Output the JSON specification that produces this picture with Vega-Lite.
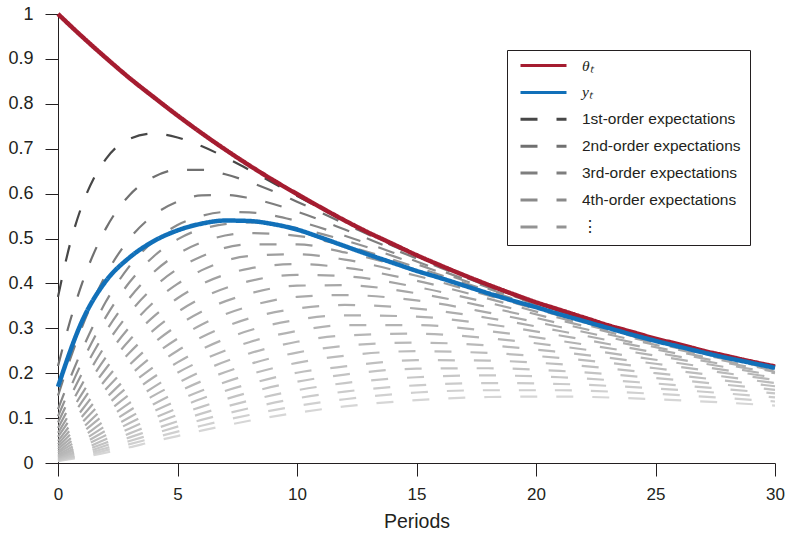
{
  "$schema": "https://vega.github.io/schema/vega-lite/v6.json",
  "description": "Impulse responses of theta, y and higher-order expectations",
  "width": 717,
  "height": 449,
  "autosize": {"type": "none"},
  "padding": {"left": 58, "top": 14, "right": 10, "bottom": 74},
  "config": {
    "view": {"stroke": null},
    "font": "Liberation Sans",
    "axis": {
      "grid": false,
      "domainColor": "#231f20",
      "tickColor": "#231f20",
      "labelColor": "#231f20",
      "titleColor": "#231f20",
      "tickSize": 13,
      "labelFontSize": 18,
      "labelFlush": false,
      "titleFontSize": 19.5,
      "titleFontWeight": "normal"
    },
    "axisX": {"labelFontSize": 17},
    "legend": {
      "symbolType": "stroke",
      "symbolSize": 2116,
      "symbolStrokeWidth": 3,
      "symbolOffset": 3,
      "clipHeight": 13,
      "rowPadding": 10.9,
      "labelFontSize": 15.5,
      "labelOffset": 14,
      "labelColor": "#231f20",
      "labelLimit": 300
    }
  },
  "datasets": {
    "curves": [
      {"s":"o24","t":0,"v":0.004},{"s":"o24","t":1,"v":0.013},{"s":"o24","t":2,"v":0.023},{"s":"o24","t":3,"v":0.035},{"s":"o24","t":4,"v":0.048},{"s":"o24","t":5,"v":0.060},{"s":"o24","t":6,"v":0.072},{"s":"o24","t":8,"v":0.094},{"s":"o24","t":10,"v":0.112},{"s":"o24","t":12,"v":0.126},{"s":"o24","t":15,"v":0.140},{"s":"o24","t":18,"v":0.147},{"s":"o24","t":21,"v":0.148},{"s":"o24","t":25,"v":0.142},{"s":"o24","t":30,"v":0.128},
      {"s":"o23","t":0,"v":0.005},{"s":"o23","t":1,"v":0.015},{"s":"o23","t":2,"v":0.028},{"s":"o23","t":3,"v":0.042},{"s":"o23","t":4,"v":0.056},{"s":"o23","t":5,"v":0.070},{"s":"o23","t":6,"v":0.083},{"s":"o23","t":8,"v":0.107},{"s":"o23","t":10,"v":0.127},{"s":"o23","t":12,"v":0.142},{"s":"o23","t":15,"v":0.157},{"s":"o23","t":18,"v":0.162},{"s":"o23","t":21,"v":0.162},{"s":"o23","t":25,"v":0.154},{"s":"o23","t":30,"v":0.137},
      {"s":"o22","t":0,"v":0.006},{"s":"o22","t":1,"v":0.018},{"s":"o22","t":2,"v":0.033},{"s":"o22","t":3,"v":0.049},{"s":"o22","t":4,"v":0.065},{"s":"o22","t":5,"v":0.081},{"s":"o22","t":6,"v":0.096},{"s":"o22","t":8,"v":0.122},{"s":"o22","t":10,"v":0.144},{"s":"o22","t":12,"v":0.159},{"s":"o22","t":15,"v":0.173},{"s":"o22","t":18,"v":0.178},{"s":"o22","t":21,"v":0.176},{"s":"o22","t":25,"v":0.166},{"s":"o22","t":30,"v":0.146},
      {"s":"o21","t":0,"v":0.007},{"s":"o21","t":1,"v":0.021},{"s":"o21","t":2,"v":0.039},{"s":"o21","t":3,"v":0.057},{"s":"o21","t":4,"v":0.075},{"s":"o21","t":5,"v":0.093},{"s":"o21","t":6,"v":0.110},{"s":"o21","t":8,"v":0.139},{"s":"o21","t":10,"v":0.162},{"s":"o21","t":12,"v":0.178},{"s":"o21","t":15,"v":0.191},{"s":"o21","t":18,"v":0.195},{"s":"o21","t":21,"v":0.191},{"s":"o21","t":25,"v":0.177},{"s":"o21","t":30,"v":0.155},
      {"s":"o20","t":0,"v":0.009},{"s":"o20","t":1,"v":0.026},{"s":"o20","t":2,"v":0.045},{"s":"o20","t":3,"v":0.066},{"s":"o20","t":4,"v":0.087},{"s":"o20","t":5,"v":0.107},{"s":"o20","t":6,"v":0.125},{"s":"o20","t":8,"v":0.157},{"s":"o20","t":10,"v":0.181},{"s":"o20","t":12,"v":0.197},{"s":"o20","t":15,"v":0.210},{"s":"o20","t":18,"v":0.211},{"s":"o20","t":21,"v":0.205},{"s":"o20","t":25,"v":0.189},{"s":"o20","t":30,"v":0.163},
      {"s":"o19","t":0,"v":0.011},{"s":"o19","t":1,"v":0.030},{"s":"o19","t":2,"v":0.053},{"s":"o19","t":3,"v":0.077},{"s":"o19","t":4,"v":0.100},{"s":"o19","t":5,"v":0.122},{"s":"o19","t":6,"v":0.143},{"s":"o19","t":8,"v":0.176},{"s":"o19","t":10,"v":0.201},{"s":"o19","t":12,"v":0.215},{"s":"o19","t":15,"v":0.229},{"s":"o19","t":18,"v":0.228},{"s":"o19","t":21,"v":0.220},{"s":"o19","t":25,"v":0.200},{"s":"o19","t":30,"v":0.171},
      {"s":"o18","t":0,"v":0.013},{"s":"o18","t":1,"v":0.036},{"s":"o18","t":2,"v":0.062},{"s":"o18","t":3,"v":0.089},{"s":"o18","t":4,"v":0.115},{"s":"o18","t":5,"v":0.139},{"s":"o18","t":6,"v":0.161},{"s":"o18","t":8,"v":0.197},{"s":"o18","t":10,"v":0.223},{"s":"o18","t":12,"v":0.239},{"s":"o18","t":15,"v":0.249},{"s":"o18","t":18,"v":0.245},{"s":"o18","t":21,"v":0.234},{"s":"o18","t":25,"v":0.211},{"s":"o18","t":30,"v":0.178},
      {"s":"o17","t":0,"v":0.015},{"s":"o17","t":1,"v":0.042},{"s":"o17","t":2,"v":0.072},{"s":"o17","t":3,"v":0.102},{"s":"o17","t":4,"v":0.131},{"s":"o17","t":5,"v":0.158},{"s":"o17","t":6,"v":0.182},{"s":"o17","t":8,"v":0.220},{"s":"o17","t":10,"v":0.246},{"s":"o17","t":12,"v":0.261},{"s":"o17","t":15,"v":0.268},{"s":"o17","t":18,"v":0.262},{"s":"o17","t":21,"v":0.247},{"s":"o17","t":25,"v":0.221},{"s":"o17","t":30,"v":0.185},
      {"s":"o16","t":0,"v":0.018},{"s":"o16","t":1,"v":0.049},{"s":"o16","t":2,"v":0.083},{"s":"o16","t":3,"v":0.117},{"s":"o16","t":4,"v":0.150},{"s":"o16","t":5,"v":0.178},{"s":"o16","t":6,"v":0.204},{"s":"o16","t":8,"v":0.244},{"s":"o16","t":10,"v":0.270},{"s":"o16","t":12,"v":0.284},{"s":"o16","t":15,"v":0.288},{"s":"o16","t":18,"v":0.278},{"s":"o16","t":21,"v":0.260},{"s":"o16","t":25,"v":0.230},{"s":"o16","t":30,"v":0.190},
      {"s":"o15","t":0,"v":0.022},{"s":"o15","t":1,"v":0.057},{"s":"o15","t":2,"v":0.096},{"s":"o15","t":3,"v":0.134},{"s":"o15","t":4,"v":0.169},{"s":"o15","t":5,"v":0.201},{"s":"o15","t":6,"v":0.228},{"s":"o15","t":8,"v":0.269},{"s":"o15","t":10,"v":0.294},{"s":"o15","t":12,"v":0.307},{"s":"o15","t":15,"v":0.307},{"s":"o15","t":18,"v":0.294},{"s":"o15","t":21,"v":0.272},{"s":"o15","t":25,"v":0.239},{"s":"o15","t":30,"v":0.195},
      {"s":"o14","t":0,"v":0.026},{"s":"o14","t":1,"v":0.067},{"s":"o14","t":2,"v":0.111},{"s":"o14","t":3,"v":0.153},{"s":"o14","t":4,"v":0.191},{"s":"o14","t":5,"v":0.224},{"s":"o14","t":6,"v":0.253},{"s":"o14","t":8,"v":0.295},{"s":"o14","t":10,"v":0.319},{"s":"o14","t":12,"v":0.329},{"s":"o14","t":15,"v":0.326},{"s":"o14","t":18,"v":0.309},{"s":"o14","t":21,"v":0.284},{"s":"o14","t":25,"v":0.246},{"s":"o14","t":30,"v":0.200},
      {"s":"o13","t":0,"v":0.031},{"s":"o13","t":1,"v":0.077},{"s":"o13","t":2,"v":0.127},{"s":"o13","t":3,"v":0.173},{"s":"o13","t":4,"v":0.214},{"s":"o13","t":5,"v":0.250},{"s":"o13","t":6,"v":0.280},{"s":"o13","t":8,"v":0.322},{"s":"o13","t":10,"v":0.344},{"s":"o13","t":12,"v":0.352},{"s":"o13","t":15,"v":0.344},{"s":"o13","t":18,"v":0.323},{"s":"o13","t":21,"v":0.294},{"s":"o13","t":25,"v":0.253},{"s":"o13","t":30,"v":0.203},
      {"s":"o12","t":0,"v":0.036},{"s":"o12","t":1,"v":0.090},{"s":"o12","t":2,"v":0.144},{"s":"o12","t":3,"v":0.195},{"s":"o12","t":4,"v":0.240},{"s":"o12","t":5,"v":0.277},{"s":"o12","t":6,"v":0.308},{"s":"o12","t":8,"v":0.349},{"s":"o12","t":10,"v":0.370},{"s":"o12","t":12,"v":0.374},{"s":"o12","t":15,"v":0.362},{"s":"o12","t":18,"v":0.335},{"s":"o12","t":21,"v":0.303},{"s":"o12","t":25,"v":0.258},{"s":"o12","t":30,"v":0.206},
      {"s":"o11","t":0,"v":0.042},{"s":"o11","t":1,"v":0.103},{"s":"o11","t":2,"v":0.164},{"s":"o11","t":3,"v":0.219},{"s":"o11","t":4,"v":0.267},{"s":"o11","t":5,"v":0.306},{"s":"o11","t":6,"v":0.337},{"s":"o11","t":8,"v":0.377},{"s":"o11","t":10,"v":0.395},{"s":"o11","t":12,"v":0.396},{"s":"o11","t":15,"v":0.378},{"s":"o11","t":18,"v":0.347},{"s":"o11","t":21,"v":0.311},{"s":"o11","t":25,"v":0.263},{"s":"o11","t":30,"v":0.209},
      {"s":"o10","t":0,"v":0.049},{"s":"o10","t":1,"v":0.118},{"s":"o10","t":2,"v":0.186},{"s":"o10","t":3,"v":0.246},{"s":"o10","t":4,"v":0.296},{"s":"o10","t":5,"v":0.336},{"s":"o10","t":6,"v":0.367},{"s":"o10","t":8,"v":0.405},{"s":"o10","t":10,"v":0.419},{"s":"o10","t":12,"v":0.416},{"s":"o10","t":15,"v":0.392},{"s":"o10","t":18,"v":0.357},{"s":"o10","t":21,"v":0.318},{"s":"o10","t":25,"v":0.267},{"s":"o10","t":30,"v":0.211},
      {"s":"o9","t":0,"v":0.058},{"s":"o9","t":1,"v":0.136},{"s":"o9","t":2,"v":0.210},{"s":"o9","t":3,"v":0.274},{"s":"o9","t":4,"v":0.326},{"s":"o9","t":5,"v":0.367},{"s":"o9","t":6,"v":0.398},{"s":"o9","t":8,"v":0.433},{"s":"o9","t":10,"v":0.443},{"s":"o9","t":12,"v":0.435},{"s":"o9","t":15,"v":0.406},{"s":"o9","t":18,"v":0.366},{"s":"o9","t":21,"v":0.323},{"s":"o9","t":25,"v":0.270},{"s":"o9","t":30,"v":0.212},
      {"s":"o8","t":0,"v":0.067},{"s":"o8","t":1,"v":0.154},{"s":"o8","t":2,"v":0.235},{"s":"o8","t":3,"v":0.303},{"s":"o8","t":4,"v":0.358},{"s":"o8","t":5,"v":0.399},{"s":"o8","t":6,"v":0.429},{"s":"o8","t":8,"v":0.461},{"s":"o8","t":10,"v":0.465},{"s":"o8","t":12,"v":0.453},{"s":"o8","t":15,"v":0.417},{"s":"o8","t":18,"v":0.373},{"s":"o8","t":21,"v":0.328},{"s":"o8","t":25,"v":0.272},{"s":"o8","t":30,"v":0.213},
      {"s":"o7","t":0,"v":0.078},{"s":"o7","t":1,"v":0.175},{"s":"o7","t":2,"v":0.263},{"s":"o7","t":3,"v":0.335},{"s":"o7","t":4,"v":0.391},{"s":"o7","t":5,"v":0.432},{"s":"o7","t":6,"v":0.460},{"s":"o7","t":8,"v":0.487},{"s":"o7","t":10,"v":0.487},{"s":"o7","t":12,"v":0.469},{"s":"o7","t":15,"v":0.428},{"s":"o7","t":18,"v":0.379},{"s":"o7","t":21,"v":0.332},{"s":"o7","t":25,"v":0.274},{"s":"o7","t":30,"v":0.214},
      {"s":"o6","t":0,"v":0.090},{"s":"o6","t":1,"v":0.199},{"s":"o6","t":2,"v":0.293},{"s":"o6","t":3,"v":0.368},{"s":"o6","t":4,"v":0.425},{"s":"o6","t":5,"v":0.465},{"s":"o6","t":6,"v":0.491},{"s":"o6","t":8,"v":0.512},{"s":"o6","t":10,"v":0.506},{"s":"o6","t":12,"v":0.484},{"s":"o6","t":15,"v":0.436},{"s":"o6","t":18,"v":0.384},{"s":"o6","t":21,"v":0.334},{"s":"o6","t":25,"v":0.275},{"s":"o6","t":30,"v":0.214},
      {"s":"o5","t":0,"v":0.104},{"s":"o5","t":1,"v":0.224},{"s":"o5","t":2,"v":0.325},{"s":"o5","t":3,"v":0.403},{"s":"o5","t":4,"v":0.460},{"s":"o5","t":5,"v":0.498},{"s":"o5","t":6,"v":0.521},{"s":"o5","t":8,"v":0.536},{"s":"o5","t":10,"v":0.523},{"s":"o5","t":12,"v":0.496},{"s":"o5","t":15,"v":0.443},{"s":"o5","t":18,"v":0.388},{"s":"o5","t":21,"v":0.337},{"s":"o5","t":25,"v":0.276},{"s":"o5","t":30,"v":0.214},
      {"s":"o4","t":0,"v":0.120},{"s":"o4","t":0.5,"v":0.188},{"s":"o4","t":1,"v":0.251},{"s":"o4","t":2,"v":0.359},{"s":"o4","t":3,"v":0.439},{"s":"o4","t":4,"v":0.494},{"s":"o4","t":5,"v":0.530},{"s":"o4","t":6,"v":0.550},{"s":"o4","t":7,"v":0.559},{"s":"o4","t":8,"v":0.558},{"s":"o4","t":10,"v":0.539},{"s":"o4","t":12,"v":0.506},{"s":"o4","t":14,"v":0.469},{"s":"o4","t":16,"v":0.429},{"s":"o4","t":18,"v":0.391},{"s":"o4","t":20,"v":0.355},{"s":"o4","t":22,"v":0.322},{"s":"o4","t":25,"v":0.277},{"s":"o4","t":28,"v":0.238},{"s":"o4","t":30,"v":0.214},
      {"s":"o3","t":0,"v":0.150},{"s":"o3","t":0.5,"v":0.230},{"s":"o3","t":1,"v":0.302},{"s":"o3","t":2,"v":0.419},{"s":"o3","t":3,"v":0.500},{"s":"o3","t":4,"v":0.552},{"s":"o3","t":5,"v":0.582},{"s":"o3","t":6,"v":0.596},{"s":"o3","t":7,"v":0.597},{"s":"o3","t":8,"v":0.590},{"s":"o3","t":10,"v":0.560},{"s":"o3","t":12,"v":0.520},{"s":"o3","t":14,"v":0.477},{"s":"o3","t":16,"v":0.435},{"s":"o3","t":18,"v":0.394},{"s":"o3","t":20,"v":0.357},{"s":"o3","t":22,"v":0.323},{"s":"o3","t":25,"v":0.277},{"s":"o3","t":28,"v":0.238},{"s":"o3","t":30,"v":0.215},
      {"s":"o2","t":0,"v":0.216},{"s":"o2","t":0.5,"v":0.315},{"s":"o2","t":1,"v":0.399},{"s":"o2","t":2,"v":0.522},{"s":"o2","t":3,"v":0.597},{"s":"o2","t":4,"v":0.637},{"s":"o2","t":5,"v":0.653},{"s":"o2","t":6,"v":0.653},{"s":"o2","t":7,"v":0.643},{"s":"o2","t":8,"v":0.626},{"s":"o2","t":10,"v":0.582},{"s":"o2","t":12,"v":0.533},{"s":"o2","t":14,"v":0.484},{"s":"o2","t":16,"v":0.439},{"s":"o2","t":18,"v":0.397},{"s":"o2","t":20,"v":0.358},{"s":"o2","t":22,"v":0.323},{"s":"o2","t":25,"v":0.277},{"s":"o2","t":28,"v":0.238},{"s":"o2","t":30,"v":0.215},
      {"s":"o1","t":0,"v":0.370},{"s":"o1","t":0.5,"v":0.487},{"s":"o1","t":1,"v":0.573},{"s":"o1","t":1.5,"v":0.634},{"s":"o1","t":2,"v":0.677},{"s":"o1","t":3,"v":0.722},{"s":"o1","t":4,"v":0.734},{"s":"o1","t":5,"v":0.725},{"s":"o1","t":6,"v":0.706},{"s":"o1","t":7,"v":0.681},{"s":"o1","t":8,"v":0.653},{"s":"o1","t":10,"v":0.595},{"s":"o1","t":12,"v":0.539},{"s":"o1","t":14,"v":0.487},{"s":"o1","t":16,"v":0.440},{"s":"o1","t":18,"v":0.397},{"s":"o1","t":20,"v":0.358},{"s":"o1","t":22,"v":0.323},{"s":"o1","t":25,"v":0.277},{"s":"o1","t":28,"v":0.238},{"s":"o1","t":30,"v":0.215}
    ],
    "main": [
      {"s":"theta","t":0,"v":1},{"s":"theta","t":1,"v":0.95},{"s":"theta","t":2,"v":0.9025},{"s":"theta","t":3,"v":0.857},{"s":"theta","t":4,"v":0.815},{"s":"theta","t":5,"v":0.774},{"s":"theta","t":6,"v":0.735},{"s":"theta","t":7,"v":0.698},{"s":"theta","t":8,"v":0.663},{"s":"theta","t":9,"v":0.630},{"s":"theta","t":10,"v":0.599},{"s":"theta","t":11,"v":0.569},{"s":"theta","t":12,"v":0.540},{"s":"theta","t":13,"v":0.513},{"s":"theta","t":14,"v":0.488},{"s":"theta","t":15,"v":0.463},{"s":"theta","t":16,"v":0.440},{"s":"theta","t":17,"v":0.418},{"s":"theta","t":18,"v":0.397},{"s":"theta","t":19,"v":0.377},{"s":"theta","t":20,"v":0.358},{"s":"theta","t":21,"v":0.341},{"s":"theta","t":22,"v":0.324},{"s":"theta","t":23,"v":0.307},{"s":"theta","t":24,"v":0.292},{"s":"theta","t":25,"v":0.277},{"s":"theta","t":26,"v":0.264},{"s":"theta","t":27,"v":0.250},{"s":"theta","t":28,"v":0.238},{"s":"theta","t":29,"v":0.226},{"s":"theta","t":30,"v":0.215},
      {"s":"y","t":0,"v":0.170},{"s":"y","t":1,"v":0.315},{"s":"y","t":2,"v":0.405},{"s":"y","t":3,"v":0.458},{"s":"y","t":4,"v":0.494},{"s":"y","t":5,"v":0.518},{"s":"y","t":6,"v":0.533},{"s":"y","t":7,"v":0.540},{"s":"y","t":8,"v":0.539},{"s":"y","t":9,"v":0.532},{"s":"y","t":10,"v":0.520},{"s":"y","t":11,"v":0.502},{"s":"y","t":12,"v":0.483},{"s":"y","t":13,"v":0.464},{"s":"y","t":14,"v":0.446},{"s":"y","t":15,"v":0.428},{"s":"y","t":16,"v":0.412},{"s":"y","t":17,"v":0.395},{"s":"y","t":18,"v":0.378},{"s":"y","t":19,"v":0.362},{"s":"y","t":20,"v":0.347},{"s":"y","t":21,"v":0.331},{"s":"y","t":22,"v":0.316},{"s":"y","t":23,"v":0.301},{"s":"y","t":24,"v":0.286},{"s":"y","t":25,"v":0.272},{"s":"y","t":26,"v":0.259},{"s":"y","t":27,"v":0.246},{"s":"y","t":28,"v":0.234},{"s":"y","t":29,"v":0.223},{"s":"y","t":30,"v":0.212}
    ]
  },
  "encoding": {
    "x": {
      "field": "t",
      "type": "quantitative",
      "scale": {"domain": [0, 30], "nice": false},
      "axis": {"title": "Periods", "values": [0, 5, 10, 15, 20, 25, 30], "labelPadding": 10, "titlePadding": 10}
    },
    "y": {
      "field": "v",
      "type": "quantitative",
      "scale": {"domain": [0, 1], "nice": false},
      "axis": {"title": null, "values": [0, 0.1, 0.2, 0.3, 0.4, 0.5, 0.6, 0.7, 0.8, 0.9, 1], "format": "~g", "labelPadding": 12}
    },
    "color": {
      "field": "s",
      "type": "nominal",
      "scale": {
        "domain": ["theta","y","o1","o2","o3","o4","o5","o6","o7","o8","o9","o10","o11","o12","o13","o14","o15","o16","o17","o18","o19","o20","o21","o22","o23","o24"],
        "range": ["#a51c30","#1170b9","#474747","#707070","#7e7e7e","#8a8a8a","#939393","#979797","#9a9a9a","#9e9e9e","#a1a1a1","#a4a4a4","#a7a7a7","#aaaaaa","#adadad","#b0b0b0","#b3b3b3","#b6b6b6","#b9b9b9","#bcbcbc","#bfbfbf","#c3c3c3","#c7c7c7","#cbcbcb","#d0d0d0","#d6d6d6"]
      },
      "legend": {
        "title": null,
        "orient": "none",
        "legendX": 449,
        "legendY": 36,
        "strokeColor": "#231f20",
        "fillColor": "#ffffff",
        "padding": 9,
        "values": ["theta","y","o1","o2","o3","o4","o5"],
        "labelFont": {"expr": "datum.value == 'theta' || datum.value == 'y' ? 'Liberation Serif' : 'Liberation Sans'"},
        "labelFontStyle": {"expr": "datum.value == 'theta' || datum.value == 'y' ? 'italic' : 'normal'"},
        "labelExpr": "datum.value == 'theta' ? 'θₜ' : datum.value == 'y' ? 'yₜ' : datum.value == 'o1' ? '1st-order expectations' : datum.value == 'o2' ? '2nd-order expectations' : datum.value == 'o3' ? '3rd-order expectations' : datum.value == 'o4' ? '4th-order expectations' : '⋮'"
      }
    },
    "strokeDash": {
      "field": "s",
      "type": "nominal",
      "scale": {
        "domain": ["theta","y","o1","o2","o3","o4","o5","o6","o7","o8","o9","o10","o11","o12","o13","o14","o15","o16","o17","o18","o19","o20","o21","o22","o23","o24"],
        "range": [[1,0],[1,0],[17,19],[17,19],[17,19],[17,19],[17,19],[17,19],[17,19],[17,19],[17,19],[17,19],[17,19],[17,19],[17,19],[17,19],[17,19],[17,19],[17,19],[17,19],[17,19],[17,19],[17,19],[17,19],[17,19],[17,19]]
      },
      "legend": {
        "title": null,
        "orient": "none",
        "legendX": 449,
        "legendY": 36,
        "strokeColor": "#231f20",
        "fillColor": "#ffffff",
        "padding": 9,
        "values": ["theta","y","o1","o2","o3","o4","o5"],
        "labelFont": {"expr": "datum.value == 'theta' || datum.value == 'y' ? 'Liberation Serif' : 'Liberation Sans'"},
        "labelFontStyle": {"expr": "datum.value == 'theta' || datum.value == 'y' ? 'italic' : 'normal'"},
        "labelExpr": "datum.value == 'theta' ? 'θₜ' : datum.value == 'y' ? 'yₜ' : datum.value == 'o1' ? '1st-order expectations' : datum.value == 'o2' ? '2nd-order expectations' : datum.value == 'o3' ? '3rd-order expectations' : datum.value == 'o4' ? '4th-order expectations' : '⋮'"
      }
    }
  },
  "layer": [
    {
      "data": {"name": "curves"},
      "mark": {"type": "line", "strokeWidth": 2.2, "interpolate": "monotone"}
    },
    {
      "data": {"name": "main"},
      "mark": {"type": "line", "strokeWidth": 4.5, "interpolate": "monotone"}
    }
  ]
}
